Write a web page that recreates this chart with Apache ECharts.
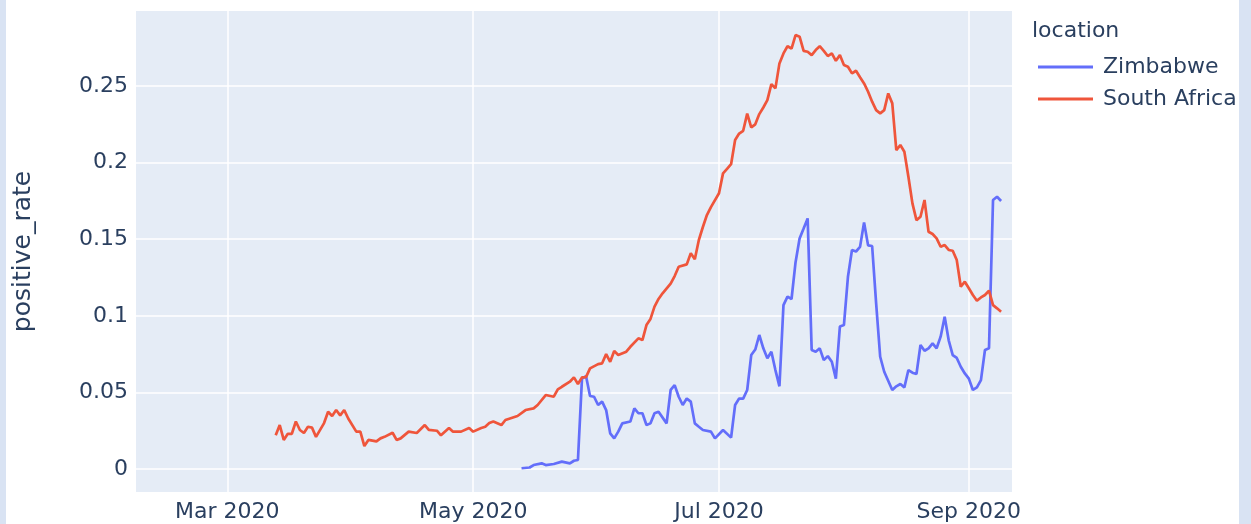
<!DOCTYPE html>
<html>
<head>
<meta charset="utf-8">
<title>positive_rate</title>
<script src="https://cdn.jsdelivr.net/npm/echarts@6/dist/echarts.min.js"></script>
<style>
  html, body { margin: 0; padding: 0; background: #d9e3f3; }
  #chart { position: absolute; left: 6px; top: 0; width: 1233px; height: 524px; background: #fff; }
</style>
</head>
<body>
<div id="chart"></div>
<script>
// daily values, one per day from the start date (null = not read off)
const zimStart = '2020-05-13'
const zimValues = [
  0.0005, null, 0.001, 0.0026, null, 0.0037, 0.0026, null, 0.0033, null,
  0.0048, null, 0.0037, 0.0054, 0.0059, 0.059, 0.0607, 0.0477, 0.0472, 0.0418,
  0.044, 0.0385, 0.0233, 0.020, 0.0244, 0.0298, null, 0.031, 0.0396, 0.0364,
  0.0364, 0.0287, 0.0298, 0.0364, 0.0374, null, 0.0298, 0.0516, 0.0548, 0.0472,
  0.0418, 0.046, 0.044, 0.0298, 0.0276, 0.0255, null, 0.0244, 0.020, null,
  0.0255, null, 0.0205, 0.0418, 0.046, 0.046, 0.0516, 0.0744, 0.078, 0.0875,
  0.0788, 0.0723, 0.0766, 0.0646, 0.054, 0.107, 0.1125, 0.111, 0.135, 0.1505,
  0.157, 0.1636, 0.0777, 0.0766, 0.0788, 0.0711, 0.0737, 0.070, 0.059, 0.093,
  0.094, 0.1255, 0.143, 0.142, 0.145, 0.161, 0.146, 0.1456, 0.108, 0.0733,
  0.0635, null, 0.0516, 0.054, 0.0555, 0.0533, 0.0646, 0.0629, 0.062, 0.081,
  0.0772, 0.0788, 0.082, 0.0788, 0.0864, 0.0994, 0.084, 0.0744, 0.0725, 0.0668,
  0.0624, 0.059, 0.0516, 0.0533, 0.058, 0.0777, 0.0788, 0.1756, 0.1777, 0.175
]
const zafStart = '2020-03-13'
const zafValues = [
  0.022, 0.0287, 0.019, 0.023, 0.023, 0.031, 0.0255, 0.0235, 0.0276, 0.027,
  0.021, null, 0.030, 0.0374, 0.0346, 0.0385, 0.035, 0.0385, 0.033, null,
  0.0244, 0.0244, 0.015, 0.019, null, 0.018, 0.020, 0.021, null, 0.0237,
  0.019, 0.020, null, 0.0244, null, 0.0235, null, 0.0287, 0.0255, null,
  0.025, 0.022, null, 0.0268, 0.0244, null, 0.0244, null, 0.0268, 0.0244,
  null, 0.0268, 0.0276, 0.030, 0.031, null, 0.0287, 0.032, null, null,
  0.0346, null, 0.0385, null, 0.0396, 0.0418, null, 0.0483, null, 0.0472,
  0.052, 0.0537, null, 0.057, 0.0598, 0.0555, 0.0598, 0.060, 0.0657, null,
  0.0685, 0.069, 0.075, 0.070, 0.077, 0.0744, null, 0.0766, 0.0798, null,
  0.0853, 0.0842, 0.094, 0.098, 0.106, 0.111, 0.1147, null, 0.121, 0.126,
  0.132, null, 0.1336, 0.1408, 0.137, 0.1495, 0.158, 0.1658, 0.171, null,
  0.180, 0.193, 0.196, 0.199, 0.2148, 0.219, 0.2208, 0.232, 0.223, 0.225,
  0.2317, 0.236, 0.2408, 0.2513, 0.2485, 0.2648, 0.2713, 0.276, 0.2745, 0.2833,
  0.2822, 0.273, 0.2724, 0.2702, 0.2735, 0.276, 0.273, 0.2696, 0.2713, 0.2665,
  0.2702, 0.2637, 0.2626, 0.2583, 0.260, 0.2557, 0.2517, 0.2463, 0.2398, 0.2343,
  0.2322, 0.2343, 0.2452, 0.2387, 0.2082, 0.2115, 0.2071, 0.1908, 0.1734, 0.1625,
  0.1647, 0.1756, 0.1549, 0.1534, 0.1506, 0.1451, 0.1462, 0.143, 0.1425, 0.1364,
  0.119, 0.1223, 0.118, 0.1136, 0.1099, 0.112, 0.1136, 0.1164, 0.107, 0.1049,
  0.1027
]
const xTicks = ['2020-03-01', '2020-05-01', '2020-07-01', '2020-09-01']
const yTicks = [0, 0.05, 0.1, 0.15, 0.2, 0.25]

function toTime(s) {
  const [y, m, d] = s.split('-').map(Number)
  return new Date(y, m - 1, d).getTime()
}
function withDates(start, values) {
  const [y, m, d] = start.split('-').map(Number)
  return values.map((v, i) => [new Date(y, m - 1, d + i).getTime(), v])
}

const font = 'DejaVu Sans'
const textColor = '#2a3f5f'
const monthNames = ['Jan', 'Feb', 'Mar', 'Apr', 'May', 'Jun', 'Jul', 'Aug', 'Sep', 'Oct', 'Nov', 'Dec']

const option = {
  animation: false,
  title: {
    text: 'location',
    left: 1026,
    top: 20,
    padding: 0,
    textStyle: { fontFamily: font, fontSize: 22, fontWeight: 'normal', color: textColor }
  },
  legend: {
    orient: 'vertical',
    left: 1032,
    top: 56,
    padding: 0,
    icon: 'rect',
    itemWidth: 55,
    itemHeight: 3,
    itemGap: 10,
    data: ['Zimbabwe', 'South Africa'],
    textStyle: { fontFamily: font, fontSize: 22, color: textColor, lineHeight: 22, padding: [0, 0, 0, 5] }
  },
  grid: {
    left: 130,
    top: 11,
    width: 876,
    height: 481,
    outerBoundsMode: 'none',
    show: true,
    backgroundColor: '#e5ecf6',
    borderWidth: 0
  },
  xAxis: {
    // dates as timestamps on a value axis, month ticks placed explicitly
    type: 'value',
    min: new Date(2020, 1, 7, 8).getTime(),
    max: new Date(2020, 8, 11, 17).getTime(),
    axisLine: { show: false },
    axisTick: { show: false, customValues: xTicks.map(toTime) },
    axisLabel: {
      customValues: xTicks.map(toTime),
      margin: 9,
      fontFamily: font,
      fontSize: 22,
      color: textColor,
      formatter: (v) => {
        const d = new Date(v)
        return monthNames[d.getMonth()] + ' ' + d.getFullYear()
      }
    },
    splitLine: { show: true, lineStyle: { color: '#fff', width: 1.5 } }
  },
  yAxis: {
    type: 'value',
    min: -0.015,
    max: 0.299,
    name: 'positive_rate',
    nameLocation: 'middle',
    nameGap: 100,
    nameTextStyle: { fontFamily: font, fontSize: 25, color: textColor },
    axisLine: { show: false },
    axisTick: { show: false, customValues: yTicks },
    axisLabel: {
      customValues: yTicks,
      margin: 8,
      fontFamily: font,
      fontSize: 22,
      color: textColor,
      formatter: (v) => String(+v.toFixed(3))
    },
    splitLine: { show: true, lineStyle: { color: '#fff', width: 1.5 } }
  },
  series: [
    {
      name: 'Zimbabwe',
      type: 'line',
      data: withDates(zimStart, zimValues),
      connectNulls: true,
      symbol: 'none',
      color: '#636efa',
      lineStyle: { width: 2.7 }
    },
    {
      name: 'South Africa',
      type: 'line',
      data: withDates(zafStart, zafValues),
      connectNulls: true,
      symbol: 'none',
      color: '#ef553b',
      lineStyle: { width: 2.7 }
    }
  ]
}

const myChart = echarts.init(document.getElementById('chart'))
myChart.setOption(option)
window.addEventListener('resize', () => {
  myChart.resize()
})
</script>
</body>
</html>
